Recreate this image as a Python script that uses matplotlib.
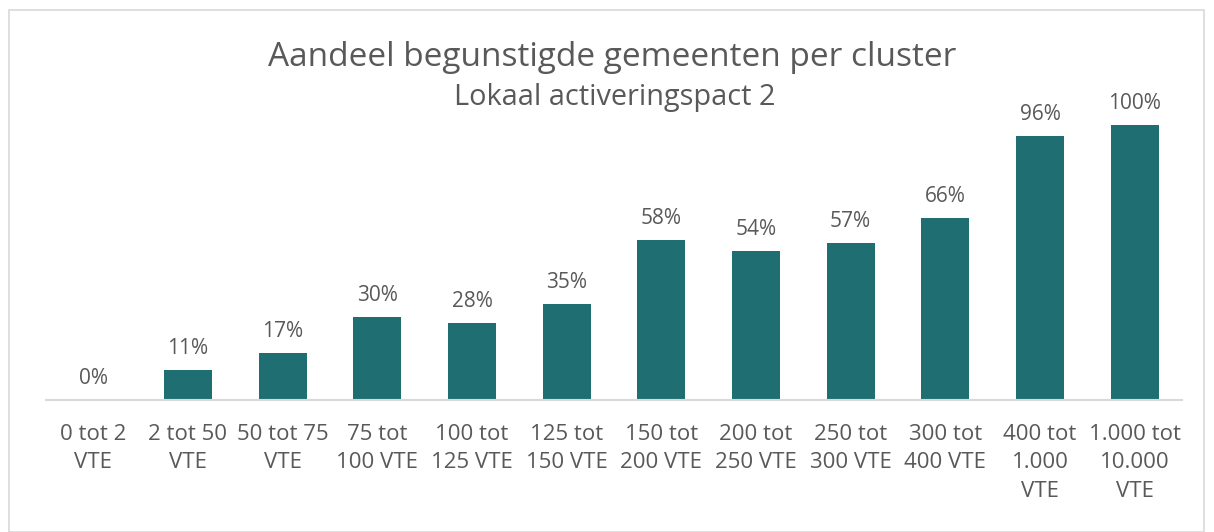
import matplotlib.pyplot as plt
from matplotlib.patches import Rectangle

categories = ["0 tot 2\nVTE", "2 tot 50\nVTE", "50 tot 75\nVTE", "75 tot\n100 VTE",
              "100 tot\n125 VTE", "125 tot\n150 VTE", "150 tot\n200 VTE", "200 tot\n250 VTE",
              "250 tot\n300 VTE", "300 tot\n400 VTE", "400 tot\n1.000\nVTE", "1.000 tot\n10.000\nVTE"]
shares = [0, 11, 17, 30, 28, 35, 58, 54, 57, 66, 96, 100]

plt.rcParams["font.family"] = ["Open Sans", "DejaVu Sans"]
grey = "#595959"
bar_color = "#1F6F72"

fig = plt.figure(figsize=(12.14, 5.32), dpi=100)
fig.patches.append(Rectangle((9 / 1214, 0), 1195 / 1214, 1 - 10 / 532, transform=fig.transFigure,
                             fill=False, edgecolor="#D9D9D9", linewidth=1.2))
ax = fig.add_axes([46 / 1214, 1 - 400 / 532, 1136 / 1214, 303 / 532])

x = range(len(categories))
bars = ax.bar(x, shares, width=0.51, color=bar_color)
for xi, v in zip(x, shares):
    ax.text(xi, v + 4, f"{v}%", ha="center", va="bottom", fontsize=15, color=grey)

ax.set_xlim(-0.5, len(categories) - 0.5)
ax.set_ylim(0, 110)
ax.set_xticks(list(x))
ax.set_xticklabels(categories, fontsize=16, color=grey, linespacing=1.47)
ax.tick_params(axis="x", length=0, pad=17)
ax.set_yticks([])
for side in ["top", "left", "right"]:
    ax.spines[side].set_visible(False)
ax.spines["bottom"].set_color("#D9D9D9")
ax.spines["bottom"].set_linewidth(1.5)

fig.text(612 / 1214, 1 - 58 / 532, "Aandeel begunstigde gemeenten per cluster",
         ha="center", va="center", fontsize=24, color=grey)
fig.text(615 / 1214, 1 - 98 / 532, "Lokaal activeringspact 2",
         ha="center", va="center", fontsize=20.8, color=grey)

fig.savefig("out.png", dpi=100)
